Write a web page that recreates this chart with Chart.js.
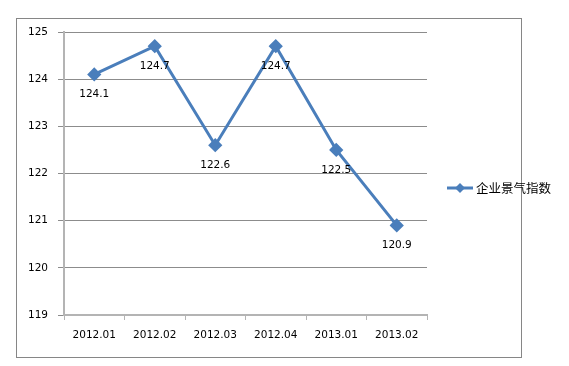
<!DOCTYPE html>
<html><head><meta charset="utf-8">
<script src="https://cdn.jsdelivr.net/npm/chart.js@4/dist/chart.umd.min.js"></script>
<style>html,body{margin:0;padding:0;background:#fff;}#wrap{width:569px;height:366px;position:relative;}</style>
</head><body><div id="wrap"><canvas id="c" width="569" height="366"></canvas></div>
<script>
const categories = ["2012.01","2012.02","2012.03","2012.04","2013.01","2013.02"];
const seriesName = "企业景气指数";
const values = [124.1, 124.7, 122.6, 124.7, 122.5, 120.9];
const yTicks = [119,120,121,122,123,124,125];

const lineColor = "#4a7ebb";
const tickFont = {family: "DejaVu Sans", size: 10.5};

const extras = {
  id: "extras",
  beforeDraw(chart) {
    const ctx = chart.ctx;
    ctx.save();
    ctx.fillStyle = "#fff";
    ctx.fillRect(0, 0, chart.width, chart.height);
    ctx.strokeStyle = "#868686";
    ctx.lineWidth = 1;
    ctx.strokeRect(16.5, 18.5, 505, 339);
    ctx.restore();
  },
  afterDatasetsDraw(chart) {
    const ctx = chart.ctx;
    const meta = chart.getDatasetMeta(0);
    ctx.save();
    ctx.font = "10.5px 'DejaVu Sans'";
    ctx.fillStyle = "#000";
    ctx.textAlign = "center";
    ctx.textBaseline = "middle";
    meta.data.forEach((pt, i) => {
      ctx.fillText(String(chart.data.datasets[0].data[i]), pt.x, pt.y + 20);
    });
    // legend
    const ly = 188;
    ctx.strokeStyle = lineColor;
    ctx.lineWidth = 3;
    ctx.beginPath(); ctx.moveTo(447, ly); ctx.lineTo(473, ly); ctx.stroke();
    ctx.fillStyle = lineColor;
    ctx.beginPath();
    ctx.moveTo(460, ly - 5); ctx.lineTo(465, ly); ctx.lineTo(460, ly + 5); ctx.lineTo(455, ly);
    ctx.closePath(); ctx.fill();
    ctx.fillStyle = "#000";
    ctx.textAlign = "left";
    ctx.font = "12.5px 'Noto Sans CJK SC'";
    ctx.fillText(chart.data.datasets[0].label, 476, ly);
    ctx.restore();
  }
};

new Chart(document.getElementById("c"), {
  type: "line",
  data: {
    labels: categories,
    datasets: [{
      label: seriesName,
      data: values,
      borderColor: lineColor,
      backgroundColor: lineColor,
      borderWidth: 3,
      pointStyle: "rectRot",
      pointRadius: 5,
      pointHoverRadius: 5,
      tension: 0,
      fill: false
    }]
  },
  options: {
    responsive: false,
    animation: false,
    devicePixelRatio: 1,
    layout: {padding: {left: 0, right: 142, top: 32, bottom: 0}},
    plugins: {legend: {display: false}, tooltip: {enabled: false}},
    scales: {
      x: {
        offset: true,
        grid: {display: true, drawOnChartArea: false, offset: true, tickLength: 5, color: "#b4b4b4", lineWidth: 1},
        border: {display: true, color: "#b4b4b4", width: 2},
        ticks: {font: tickFont, color: "#000", padding: 9, maxRotation: 0},
        afterFit(scale) { scale.height = 51; }
      },
      y: {
        min: 119, max: 125,
        afterBuildTicks(scale) { scale.ticks = yTicks.map(v => ({value: v})); },
        grid: {color: "#8c8c8c", lineWidth: 1, tickLength: 6},
        border: {display: true, color: "#b4b4b4", width: 2},
        ticks: {font: tickFont, color: "#000", padding: 10},
        afterFit(scale) { scale.width = 64; }
      }
    }
  },
  plugins: [extras]
});
</script>
</body></html>
